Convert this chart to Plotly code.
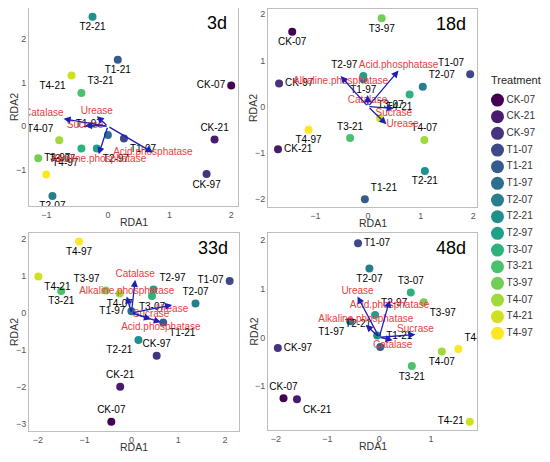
import plotly.graph_objects as go
from plotly.subplots import make_subplots

treatments = ["CK-07", "CK-21", "CK-97", "T1-07", "T1-21", "T1-97", "T2-07", "T2-21",
              "T2-97", "T3-07", "T3-21", "T3-97", "T4-07", "T4-21", "T4-97"]
treatment_colors = ["#440154", "#481B6D", "#46337E", "#3F4889", "#365C8D", "#2E6E8E",
                    "#277F8E", "#21908C", "#1FA187", "#2DB27D", "#4AC16D", "#71CF57",
                    "#9FDA3A", "#CFE11C", "#FDE725"]
enzymes = ["Catalase", "Urease", "Sucrase", "Acid.phosphatase", "Alkaline.phosphatase"]
days = ["3d", "18d", "33d", "48d"]

# site scores per sampling day (same order as treatments)
rda1_3d = [2.0, 1.73, 1.6, 0.26, 0.16, 0.0, -0.9, -0.25, -0.18, -0.43, -0.43, -1.13, -0.79, -0.59, -1.0]
rda2_3d = [0.93, -0.30, -1.09, -0.28, 1.52, -0.2, -1.59, 2.5, -0.51, -0.51, 0.76, -0.73, -0.32, 1.16, -1.1]

rda1_18d = [-1.44, -1.71, -1.69, 1.94, -0.06, -0.09, 1.04, 1.08, -0.09, 0.79, -0.34, 0.26, 1.07, 0.23, -1.13]
rda2_18d = [1.62, -0.92, 0.5, 0.70, -2.0, 0.59, 0.43, -1.39, 0.66, 0.26, -0.68, 1.91, -0.72, -0.25, -0.5]

rda1_33d = [-0.43, -0.24, 0.54, 2.1, 0.68, 0.0, 1.37, 0.15, 0.47, 0.44, -1.5, -0.55, -0.25, -1.99, -1.12]
rda2_33d = [-2.95, -2.0, -1.16, 0.87, -0.26, 0.05, 0.26, -0.73, 0.64, 0.46, 0.6, 0.61, 0.53, 0.99, 1.94]

rda1_48d = [-1.85, -1.59, -1.96, -0.41, 0.02, -0.56, -0.19, -0.04, -0.08, 0.61, 0.63, 0.86, 1.21, 1.75, 1.53]
rda2_48d = [-1.25, -1.27, -0.22, 1.93, -0.2, 0.33, 1.41, 0.04, 0.46, 0.92, -0.59, 0.72, -0.29, -1.73, -0.24]

# enzyme loadings, arrow tips (same order as enzymes)
env1_3d = [-0.72, -0.18, -0.37, 0.73, -0.15]
env2_3d = [0.17, 0.23, 0.02, -0.6, -0.64]
env1_18d = [-0.01, 0.35, 0.49, 0.58, -0.52]
env2_18d = [0.25, -0.38, -0.04, 0.78, 0.66]
env1_33d = [0.08, 0.87, 0.42, 0.63, -0.1]
env2_33d = [0.9, 0.22, -0.17, -0.25, 0.45]
env1_48d = [0.26, -0.42, 0.7, 0.2, -0.26]
env2_48d = [-0.06, 0.84, 0.06, 0.76, 0.26]

# label placement (roughly what ggrepel did)
site_pos = [
    ["middle left", "top center", "bottom center", "bottom right", "bottom center", "top left",
     "bottom center", "bottom center", "bottom right", "bottom left", "top right", "middle right",
     "top left", "bottom left", "top right"],
    ["bottom center", "middle right", "middle right", "top left", "top right", "bottom center",
     "top right", "bottom center", "top left", "bottom left", "top center", "bottom center",
     "top center", "top right", "bottom center"],
    ["top center", "top center", "top center", "middle left", "bottom right", "middle left",
     "top center", "bottom left", "top right", "bottom center", "bottom center", "top left",
     "bottom center", "bottom right", "bottom center"],
    ["top center", "bottom right", "middle right", "middle right", "top right", "bottom left",
     "bottom center", "top left", "top right", "top center", "bottom center", "bottom right",
     "bottom center", "middle left", "top right"],
]
env_pos = [
    ["top left", "top center", "middle center", "middle center", "bottom center"],
    ["bottom center", "middle right", "bottom center", "top center", "bottom center"],
    ["top center", "bottom center", "top center", "bottom center", "top center"],
    ["bottom center", "top center", "top center", "bottom center", "top center"],
]

panels = [
    (1, 1, rda1_3d, rda2_3d, env1_3d, env2_3d, [-1.28, 2.11], [-1.82, 2.70]),
    (1, 2, rda1_18d, rda2_18d, env1_18d, env2_18d, [-1.9, 2.07], [-2.17, 2.11]),
    (2, 1, rda1_33d, rda2_33d, env1_33d, env2_33d, [-2.19, 2.3], [-3.2, 2.17]),
    (2, 2, rda1_48d, rda2_48d, env1_48d, env2_48d, [-2.15, 1.89], [-1.9, 2.14]),
]

# the page body keeps its 8px margin, so the figure is 16px smaller than the window
W, H, PAD = 534, 446, 8


def fx(px):
    return (px - PAD) / W


def fy(py):
    return 1 - (py - PAD) / H


font_family = "Liberation Sans, Arial, sans-serif"
arrow_color = "#1f1fb4"
label_red = "#e8403f"

fig = make_subplots(rows=2, cols=2)

for i, (r, c, sx, sy, ex, ey, xr, yr) in enumerate(panels):
    n = i + 1
    xa = "x" if n == 1 else f"x{n}"
    ya = "y" if n == 1 else f"y{n}"

    # enzyme arrows from origin
    for k in range(len(enzymes)):
        fig.add_annotation(x=ex[k], y=ey[k], ax=0, ay=0, xref=xa, yref=ya, axref=xa, ayref=ya,
                           text="", showarrow=True, arrowhead=2, arrowsize=1.1, arrowwidth=1.3,
                           arrowcolor=arrow_color, standoff=0)

    fig.add_trace(go.Scatter(
        x=sx, y=sy, mode="markers+text", text=treatments, textposition=site_pos[i],
        marker=dict(size=8, color=treatment_colors),
        textfont=dict(size=10, color="black", family=font_family),
        showlegend=False, hoverinfo="text"), row=r, col=c)

    fig.add_trace(go.Scatter(
        x=ex, y=ey, mode="text", text=enzymes, textposition=env_pos[i],
        textfont=dict(size=10, color=label_red, family=font_family),
        showlegend=False), row=r, col=c)

    fig.update_xaxes(range=xr, row=r, col=c)
    fig.update_yaxes(range=yr, row=r, col=c)

    # day tag in top right corner
    fig.add_annotation(text=days[i], xref=f"{xa} domain", yref=f"{ya} domain", x=1, y=1,
                       xanchor="right", yanchor="top", xshift=-9, yshift=-3, showarrow=False,
                       font=dict(size=18, color="black", family=font_family))
    # axis titles
    fig.add_annotation(text="RDA1", xref=f"{xa} domain", yref=f"{ya} domain", x=0.5, y=0,
                       xanchor="center", yanchor="top", yshift=-8, showarrow=False,
                       font=dict(size=10.5, color="#333333", family=font_family))
    fig.add_annotation(text="RDA2", xref=f"{xa} domain", yref=f"{ya} domain", x=0, y=0.5,
                       xanchor="right", yanchor="middle", xshift=-7, textangle=-90,
                       showarrow=False, font=dict(size=10.5, color="#333333", family=font_family))

fig.update_xaxes(showgrid=False, zeroline=False, showline=True, mirror=True, linecolor="#bdbdbd",
                 linewidth=1, dtick=1, ticks="", tickfont=dict(size=9, color="#555555"),
                 automargin=False)
fig.update_yaxes(showgrid=False, zeroline=False, showline=True, mirror=True, linecolor="#bdbdbd",
                 linewidth=1, dtick=1, ticks="", tickfont=dict(size=9, color="#555555"),
                 automargin=False)

# treatment key, drawn as its own little panel so the spacing matches the original
fig.add_trace(go.Scatter(
    x=[0] * len(treatments), y=treatments, mode="markers+text", text=treatments,
    textposition="middle right", marker=dict(size=13, color=treatment_colors),
    textfont=dict(size=10, color="#333333", family=font_family),
    showlegend=False, xaxis="x5", yaxis="y5"))
fig.add_annotation(text="Treatment", xref="paper", yref="paper", x=fx(489), y=fy(80),
                   xanchor="left", yanchor="middle", showarrow=False,
                   font=dict(size=11, color="#222222", family=font_family))

fig.update_layout(
    width=W, height=H,
    margin=dict(l=0, r=0, t=0, b=0),
    plot_bgcolor="white", paper_bgcolor="white",
    font=dict(family=font_family),
    showlegend=False,
    xaxis=dict(domain=[fx(29), fx(238)]), xaxis2=dict(domain=[fx(268), fx(477)]),
    xaxis3=dict(domain=[fx(29), fx(239)]), xaxis4=dict(domain=[fx(268), fx(477)]),
    yaxis=dict(domain=[fy(206), fy(8)]), yaxis2=dict(domain=[fy(207), fy(9)]),
    yaxis3=dict(domain=[fy(431), fy(233)]), yaxis4=dict(domain=[fy(430), fy(233)]),
    xaxis5=dict(domain=[fx(484), 1.0], range=[-1, 3.3], visible=False, fixedrange=True,
                anchor="y5"),
    yaxis5=dict(domain=[fy(341.7), fy(91.7)], type="category", range=[14.5, -0.5],
                visible=False, fixedrange=True, anchor="x5"),
)

fig.write_html("out.html")
